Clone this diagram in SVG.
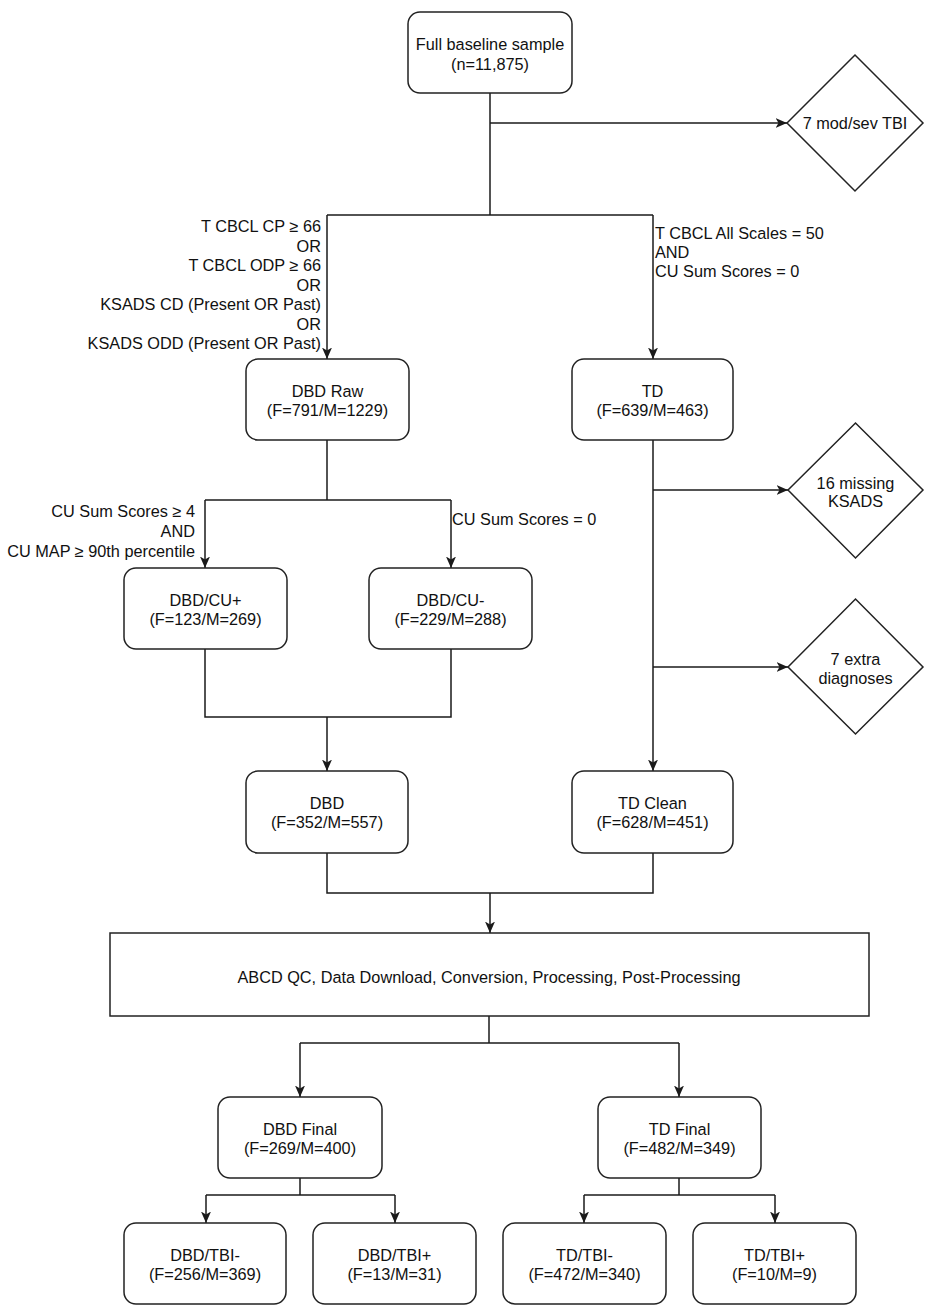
<svg xmlns="http://www.w3.org/2000/svg" width="935" height="1314" viewBox="0 0 935 1314">
<style>
  text { font-family: "Liberation Sans", Arial, Helvetica, sans-serif; font-size: 16.3px; fill: #111; }
  .c { text-anchor: middle; }
  .e { text-anchor: end; }
  .box { fill: #fff; stroke: #222; stroke-width: 1.5; }
  .dia { fill: #fff; stroke: #222; stroke-width: 1.5; }
  .ln { fill: none; stroke: #1a1a1a; stroke-width: 1.5; }
  .ar { fill: none; stroke: #1a1a1a; stroke-width: 1.5; marker-end: url(#arr); }
</style>
<defs>
  <marker id="arr" markerUnits="userSpaceOnUse" markerWidth="12" markerHeight="11" refX="11.5" refY="5" orient="auto">
    <path d="M0,0 L11.5,5 L0,10 L3,5 z" fill="#1a1a1a"/>
  </marker>
</defs>
<rect width="935" height="1314" fill="#fff"/>

<g id="connectors">
  <path class="ln" d="M490,93 V215"/>
  <path class="ar" d="M490,123 H787"/>
  <path class="ln" d="M327,215 H653"/>
  <path class="ar" d="M327,215 V359"/>
  <path class="ar" d="M653,215 V359"/>
  <path class="ln" d="M327,440 V500"/>
  <path class="ln" d="M205,500 H451"/>
  <path class="ar" d="M205,500 V568"/>
  <path class="ar" d="M451,500 V568"/>
  <path class="ar" d="M653,440 V771"/>
  <path class="ar" d="M653,490 H788"/>
  <path class="ar" d="M653,667 H788"/>
  <path class="ln" d="M205,649 V717 H451 V649"/>
  <path class="ar" d="M327,717 V771"/>
  <path class="ln" d="M327,853 V893 H653 V853"/>
  <path class="ar" d="M490,893 V933"/>
  <path class="ln" d="M489,1016 V1043"/>
  <path class="ln" d="M300,1043 H679"/>
  <path class="ar" d="M300,1043 V1097"/>
  <path class="ar" d="M679,1043 V1097"/>
  <path class="ln" d="M300,1178 V1195"/>
  <path class="ln" d="M206,1195 H395"/>
  <path class="ar" d="M206,1195 V1223"/>
  <path class="ar" d="M395,1195 V1223"/>
  <path class="ln" d="M679,1178 V1195"/>
  <path class="ln" d="M584,1195 H775"/>
  <path class="ar" d="M584,1195 V1223"/>
  <path class="ar" d="M775,1195 V1223"/>
</g>

<g id="labels">
  <text class="e" x="321" y="232">T CBCL CP ≥ 66</text>
  <text class="e" x="321" y="251.5">OR</text>
  <text class="e" x="321" y="271">T CBCL ODP ≥ 66</text>
  <text class="e" x="321" y="290.5">OR</text>
  <text class="e" x="321" y="310">KSADS CD (Present OR Past)</text>
  <text class="e" x="321" y="329.5">OR</text>
  <text class="e" x="321" y="349">KSADS ODD (Present OR Past)</text>
  <text x="655" y="238.5">T CBCL All Scales = 50</text>
  <text x="655" y="257.5">AND</text>
  <text x="655" y="276.5">CU Sum Scores = 0</text>
  <text class="e" x="195" y="517">CU Sum Scores ≥ 4</text>
  <text class="e" x="195" y="537">AND</text>
  <text class="e" x="195" y="557">CU MAP ≥ 90th percentile</text>
  <text x="452" y="524.5">CU Sum Scores = 0</text>
</g>

<g id="full-baseline">
  <rect class="box" x="408" y="12" width="164" height="81" rx="12"/>
  <text class="c" x="490" y="50">Full baseline sample</text>
  <text class="c" x="490" y="70">(n=11,875)</text>
</g>
<g id="tbi-excluded">
  <path class="dia" d="M787,123 L855,55 L923,123 L855,191 Z"/>
  <text class="c" x="855" y="128.5">7 mod/sev TBI</text>
</g>
<g id="dbd-raw">
  <rect class="box" x="246" y="359" width="163" height="81" rx="12"/>
  <text class="c" x="327.5" y="396.5">DBD Raw</text>
  <text class="c" x="327.5" y="415.5">(F=791/M=1229)</text>
</g>
<g id="td">
  <rect class="box" x="572" y="359" width="161" height="81" rx="12"/>
  <text class="c" x="652.5" y="396.5">TD</text>
  <text class="c" x="652.5" y="415.5">(F=639/M=463)</text>
</g>
<g id="missing-ksads">
  <path class="dia" d="M788,490 L855.5,423 L923,490 L855.5,558 Z"/>
  <text class="c" x="855.5" y="488.5">16 missing</text>
  <text class="c" x="855.5" y="507">KSADS</text>
</g>
<g id="extra-diagnoses">
  <path class="dia" d="M788,667 L855.5,599 L923,667 L855.5,734 Z"/>
  <text class="c" x="855.5" y="665">7 extra</text>
  <text class="c" x="855.5" y="684">diagnoses</text>
</g>
<g id="dbd-cu-plus">
  <rect class="box" x="124" y="568" width="163" height="81" rx="12"/>
  <text class="c" x="205.5" y="605.5">DBD/CU+</text>
  <text class="c" x="205.5" y="624.5">(F=123/M=269)</text>
</g>
<g id="dbd-cu-minus">
  <rect class="box" x="369" y="568" width="163" height="81" rx="12"/>
  <text class="c" x="450.5" y="605.5">DBD/CU-</text>
  <text class="c" x="450.5" y="624.5">(F=229/M=288)</text>
</g>
<g id="dbd">
  <rect class="box" x="246" y="771" width="162" height="82" rx="12"/>
  <text class="c" x="327" y="809">DBD</text>
  <text class="c" x="327" y="828">(F=352/M=557)</text>
</g>
<g id="td-clean">
  <rect class="box" x="572" y="771" width="161" height="82" rx="12"/>
  <text class="c" x="652.5" y="809">TD Clean</text>
  <text class="c" x="652.5" y="828">(F=628/M=451)</text>
</g>
<g id="processing">
  <rect class="box" x="110" y="933" width="759" height="83"/>
  <text class="c" x="489" y="982.5">ABCD QC, Data Download, Conversion, Processing, Post-Processing</text>
</g>
<g id="dbd-final">
  <rect class="box" x="218" y="1097" width="164" height="81" rx="12"/>
  <text class="c" x="300" y="1134.5">DBD Final</text>
  <text class="c" x="300" y="1153.5">(F=269/M=400)</text>
</g>
<g id="td-final">
  <rect class="box" x="598" y="1097" width="163" height="81" rx="12"/>
  <text class="c" x="679.5" y="1134.5">TD Final</text>
  <text class="c" x="679.5" y="1153.5">(F=482/M=349)</text>
</g>
<g id="dbd-tbi-minus">
  <rect class="box" x="124" y="1223" width="162" height="81" rx="12"/>
  <text class="c" x="205" y="1260.5">DBD/TBI-</text>
  <text class="c" x="205" y="1279.5">(F=256/M=369)</text>
</g>
<g id="dbd-tbi-plus">
  <rect class="box" x="313" y="1223" width="163" height="81" rx="12"/>
  <text class="c" x="394.5" y="1260.5">DBD/TBI+</text>
  <text class="c" x="394.5" y="1279.5">(F=13/M=31)</text>
</g>
<g id="td-tbi-minus">
  <rect class="box" x="503" y="1223" width="163" height="81" rx="12"/>
  <text class="c" x="584.5" y="1260.5">TD/TBI-</text>
  <text class="c" x="584.5" y="1279.5">(F=472/M=340)</text>
</g>
<g id="td-tbi-plus">
  <rect class="box" x="693" y="1223" width="163" height="81" rx="12"/>
  <text class="c" x="774.5" y="1260.5">TD/TBI+</text>
  <text class="c" x="774.5" y="1279.5">(F=10/M=9)</text>
</g>
</svg>
